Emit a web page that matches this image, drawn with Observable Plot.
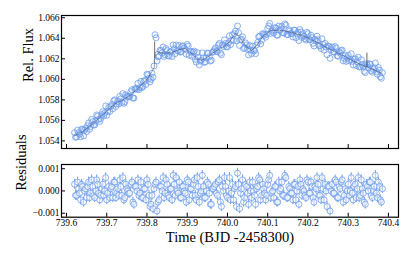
<!DOCTYPE html>
<html>
<head>
<meta charset="utf-8">
<script src="https://cdn.jsdelivr.net/npm/d3@7"></script>
<script src="https://cdn.jsdelivr.net/npm/@observablehq/plot@0.6"></script>
<style>
html,body{margin:0;padding:0;background:white;}
#chart svg{display:block;}
</style>
</head>
<body>
<div id="chart"></div>
<script>
// observations, first half-cadence set
const obsTime = [
739.620,739.625,739.630,739.635,739.640,739.645,739.650,739.655,739.660,739.665,
739.670,739.675,739.680,739.685,739.690,739.695,739.700,739.705,739.710,739.715,
739.720,739.725,739.730,739.735,739.740,739.745,739.750,739.755,739.760,739.765,
739.770,739.775,739.780,739.785,739.790,739.795,739.800,739.805,739.810,739.815,
739.820,739.825,739.830,739.835,739.840,739.845,739.850,739.855,739.860,739.865,
739.870,739.875,739.880,739.885,739.890,739.895,739.900,739.905,739.910,739.915,
739.920,739.925,739.930,739.935,739.940,739.945,739.950,739.955,739.960,739.965,
739.970,739.975,739.980,739.985,739.990,739.995,740.000,740.005,740.010,740.015,
740.020,740.025,740.030,740.035,740.040,740.045,740.050,740.055,740.060,740.065,
740.070,740.075,740.080,740.085,740.090,740.095,740.100,740.105,740.110,740.115,
740.120,740.125,740.130,740.135,740.140,740.145,740.150,740.155,740.160,740.165,
740.170,740.175,740.180,740.185,740.190,740.195,740.200,740.205,740.210,740.215,
740.220,740.225,740.230,740.235,740.240,740.245,740.250,740.255,740.260,740.265,
740.270,740.275,740.280,740.285,740.290,740.295,740.300,740.305,740.310,740.315,
740.320,740.325,740.330,740.335,740.340,740.345,740.350,740.355,740.360,740.365,
740.370,740.375,740.380,740.385];
const obsFlux = [
1.05480,1.05440,1.05480,1.05440,1.05510,1.05505,1.05490,1.05575,1.05540,1.05588,
1.05555,1.05653,1.05610,1.05617,1.05685,1.05672,1.05650,1.05728,1.05735,1.05713,
1.05800,1.05760,1.05760,1.05810,1.05860,1.05782,1.05835,1.05828,1.05880,1.05818,
1.05905,1.05902,1.05900,1.05980,1.05930,1.05990,1.06050,1.06010,1.06000,1.06020,
1.06435,1.06180,1.06225,1.06280,1.06315,1.06240,1.06280,1.06225,1.06270,1.06335,
1.06250,1.06280,1.06330,1.06270,1.06325,1.06290,1.06340,1.06235,1.06265,1.06265,
1.06195,1.06260,1.06140,1.06185,1.06210,1.06170,1.06255,1.06220,1.06185,1.06270,
1.06305,1.06270,1.06350,1.06240,1.06320,1.06350,1.06315,1.06425,1.06380,1.06380,
1.06470,1.06520,1.06330,1.06390,1.06300,1.06355,1.06295,1.06330,1.06250,1.06285,
1.06250,1.06360,1.06420,1.06380,1.06440,1.06410,1.06495,1.06545,1.06470,1.06452,
1.06502,1.06430,1.06478,1.06515,1.06452,1.06528,1.06435,1.06470,1.06445,1.06480,
1.06405,1.06460,1.06485,1.06408,1.06420,1.06382,1.06445,1.06385,1.06405,1.06325,
1.06375,1.06385,1.06325,1.06395,1.06285,1.06315,1.06325,1.06205,1.06315,1.06265,
1.06305,1.06225,1.06255,1.06285,1.06205,1.06175,1.06235,1.06195,1.06175,1.06195,
1.06135,1.06215,1.06125,1.06145,1.06078,1.06152,1.06115,1.06148,1.06070,1.06112,
1.06075,1.06115,1.06025,1.06065];
const obsResid = [
0.0003,-0.0002,0.0001,-0.0004,0.0002,0.0000,-0.0003,0.0004,-0.0001,0.0002,
-0.0003,0.0005,-0.0001,-0.0002,0.0003,0.0000,-0.0004,0.0002,0.0001,-0.0003,
0.0004,-0.0001,-0.0002,0.0002,0.0006,-0.0003,0.0001,-0.0001,0.0003,-0.0005,
0.0002,0.0000,-0.0002,0.0004,-0.0003,0.0001,0.0005,-0.0002,-0.0006,-0.0008,
0.0003,-0.0009,-0.0004,0.0002,0.0006,-0.0001,0.0003,-0.0003,0.0001,0.0007,
-0.0002,0.0000,0.0004,-0.0003,0.0002,-0.0001,0.0005,-0.0004,0.0001,0.0003,
-0.0002,0.0006,-0.0005,0.0000,0.0002,-0.0003,0.0004,-0.0001,-0.0006,0.0001,
0.0003,-0.0002,0.0005,-0.0007,0.0000,0.0002,-0.0003,0.0006,-0.0001,-0.0004,
0.0002,0.0008,-0.0008,0.0001,-0.0005,0.0003,-0.0001,0.0004,-0.0003,0.0000,
-0.0006,0.0002,0.0005,-0.0002,0.0001,-0.0004,0.0003,0.0007,-0.0001,-0.0003,
0.0002,-0.0005,0.0000,0.0004,-0.0002,0.0006,-0.0003,0.0001,-0.0001,0.0003,
-0.0004,0.0002,0.0005,-0.0002,0.0000,-0.0003,0.0004,-0.0001,0.0002,-0.0005,
0.0001,0.0003,-0.0002,0.0006,-0.0004,0.0000,0.0002,-0.0009,0.0003,-0.0001,
0.0004,-0.0003,0.0001,0.0005,-0.0002,-0.0004,0.0003,0.0000,-0.0001,0.0002,
-0.0003,0.0006,-0.0002,0.0001,-0.0005,0.0003,0.0000,0.0004,-0.0003,0.0002,
-0.0001,0.0004,-0.0004,0.0001];
// observations, second (interleaved) set
const obsTimeB = [
739.6225,739.6275,739.6325,739.6375,739.6425,739.6475,739.6525,739.6575,739.6625,739.6675,
739.6725,739.6775,739.6825,739.6875,739.6925,739.6975,739.7025,739.7075,739.7125,739.7175,
739.7225,739.7275,739.7325,739.7375,739.7425,739.7475,739.7525,739.7575,739.7625,739.7675,
739.7725,739.7775,739.7825,739.7875,739.7925,739.7975,739.8025,739.8075,739.8125,739.8175,
739.8225,739.8275,739.8325,739.8375,739.8425,739.8475,739.8525,739.8575,739.8625,739.8675,
739.8725,739.8775,739.8825,739.8875,739.8925,739.8975,739.9025,739.9075,739.9125,739.9175,
739.9225,739.9275,739.9325,739.9375,739.9425,739.9475,739.9525,739.9575,739.9625,739.9675,
739.9725,739.9775,739.9825,739.9875,739.9925,739.9975,740.0025,740.0075,740.0125,740.0175,
740.0225,740.0275,740.0325,740.0375,740.0425,740.0475,740.0525,740.0575,740.0625,740.0675,
740.0725,740.0775,740.0825,740.0875,740.0925,740.0975,740.1025,740.1075,740.1125,740.1175,
740.1225,740.1275,740.1325,740.1375,740.1425,740.1475,740.1525,740.1575,740.1625,740.1675,
740.1725,740.1775,740.1825,740.1875,740.1925,740.1975,740.2025,740.2075,740.2125,740.2175,
740.2225,740.2275,740.2325,740.2375,740.2425,740.2475,740.2525,740.2575,740.2625,740.2675,
740.2725,740.2775,740.2825,740.2875,740.2925,740.2975,740.3025,740.3075,740.3125,740.3175,
740.3225,740.3275,740.3325,740.3375,740.3425,740.3475,740.3525,740.3575,740.3625,740.3675,
740.3725,740.3775,740.3825];
const obsFluxB = [
1.05435,1.05505,1.05465,1.05515,1.05448,1.05523,1.05548,1.05513,1.05609,1.05557,
1.05594,1.05642,1.05589,1.05656,1.05644,1.05741,1.05689,1.05687,1.05754,1.05792,
1.05735,1.05785,1.05835,1.05775,1.05766,1.05849,1.05832,1.05834,1.05899,1.05817,
1.05914,1.05961,1.05920,1.05920,1.05980,1.05950,1.06045,1.05975,1.06060,1.06130,
1.06405,1.06218,1.06283,1.06258,1.06223,1.06300,1.06233,1.06268,1.06223,1.06298,
1.06335,1.06275,1.06265,1.06323,1.06303,1.06245,1.06323,1.06275,1.06225,1.06275,
1.06168,1.06215,1.06178,1.06258,1.06165,1.06208,1.06253,1.06178,1.06263,1.06288,
1.06273,1.06335,1.06255,1.06335,1.06385,1.06318,1.06355,1.06338,1.06435,1.06445,
1.06375,1.06455,1.06385,1.06415,1.06308,1.06335,1.06238,1.06285,1.06323,1.06278,
1.06335,1.06415,1.06345,1.06445,1.06430,1.06438,1.06520,1.06448,1.06481,1.06502,
1.06431,1.06519,1.06487,1.06454,1.06540,1.06437,1.06483,1.06448,1.06413,1.06478,
1.06443,1.06378,1.06462,1.06434,1.06396,1.06459,1.06390,1.06430,1.06350,1.06390,
1.06420,1.06330,1.06300,1.06340,1.06350,1.06240,1.06320,1.06290,1.06270,1.06320,
1.06230,1.06270,1.06280,1.06180,1.06230,1.06210,1.06180,1.06250,1.06140,1.06200,
1.06170,1.06120,1.06190,1.06122,1.06065,1.06139,1.06152,1.06084,1.06096,1.06159,
1.06050,1.06090,1.06010];
const obsResidB = [
-0.0002,0.0004,-0.0001,0.0003,-0.0005,0.0001,0.0002,-0.0003,0.0005,-0.0002,
0.0000,0.0003,-0.0004,0.0001,-0.0002,0.0006,-0.0001,-0.0003,0.0002,0.0004,
-0.0003,0.0001,0.0005,-0.0002,-0.0004,0.0003,0.0000,-0.0001,0.0004,-0.0006,
0.0002,0.0005,-0.0001,-0.0003,0.0001,-0.0004,0.0003,-0.0007,-0.0002,0.0001,
0.0004,-0.0005,0.0002,0.0000,-0.0003,0.0005,-0.0002,0.0001,-0.0004,0.0003,
0.0006,-0.0001,-0.0003,0.0002,0.0000,-0.0005,0.0004,0.0001,-0.0002,0.0005,
-0.0004,0.0002,-0.0001,0.0007,-0.0003,0.0000,0.0003,-0.0006,0.0001,0.0002,
-0.0001,0.0004,-0.0005,0.0002,0.0006,-0.0002,0.0000,-0.0004,0.0003,0.0001,
-0.0007,0.0003,-0.0001,0.0005,-0.0003,0.0002,-0.0006,0.0000,0.0004,-0.0002,
0.0001,0.0006,-0.0004,0.0003,-0.0001,-0.0002,0.0005,-0.0003,0.0000,0.0002,
-0.0005,0.0004,0.0001,-0.0002,0.0007,-0.0003,0.0002,-0.0001,-0.0004,0.0003,
0.0000,-0.0006,0.0003,0.0001,-0.0002,0.0005,-0.0001,0.0004,-0.0003,0.0002,
0.0006,-0.0002,-0.0004,0.0001,0.0003,-0.0007,0.0002,0.0000,-0.0001,0.0005,
-0.0003,0.0002,0.0004,-0.0005,0.0001,0.0000,-0.0002,0.0006,-0.0004,0.0003,
0.0001,-0.0003,0.0005,-0.0001,-0.0006,0.0002,0.0004,-0.0002,0.0000,0.0007,
-0.0003,0.0002,-0.0005];
const residErr = 0.00022;
// best-fit model curve
const modelTime = [739.620,739.640,739.660,739.680,739.700,739.720,739.740,739.760,739.780,739.800,
739.810,739.8185,739.819,739.8195,739.820,739.825,739.840,739.860,739.880,739.895,
739.910,739.925,739.935,739.950,739.970,739.990,740.005,740.020,740.030,740.045,
740.060,740.075,740.090,740.110,740.130,740.150,740.170,740.190,740.210,740.230,
740.250,740.270,740.290,740.310,740.330,740.346,740.3465,740.347,740.360,740.385];
const modelFlux = [1.05450,1.05490,1.05550,1.05620,1.05690,1.05760,1.05800,1.05850,1.05920,1.06000,
1.06060,1.06120,1.06370,1.06210,1.06260,1.06270,1.06255,1.06260,1.06290,1.06300,
1.06255,1.06200,1.06185,1.06215,1.06275,1.06320,1.06365,1.06450,1.06410,1.06325,
1.06280,1.06340,1.06430,1.06480,1.06478,1.06465,1.06445,1.06420,1.06385,1.06345,
1.06305,1.06265,1.06225,1.06185,1.06145,1.06120,1.06260,1.06120,1.06100,1.06055];
const xTicks = [739.6,739.7,739.8,739.9,740.0,740.1,740.2,740.3,740.4];
const fluxTicks = [1.054,1.056,1.058,1.060,1.062,1.064,1.066];
const residTicks = [-0.001,0.000,0.001];
const xLabel = "Time (BJD -2458300)";
const fluxLabel = "Rel. Flux";
const residLabel = "Residuals";

const obs = obsTime.map((t,i)=>({t, f: obsFlux[i], r: obsResid[i]}))
  .concat(obsTimeB.map((t,i)=>({t, f: obsFluxB[i], r: obsResidB[i]})))
  .sort((a,b)=>a.t-b.t);
const model = modelTime.map((t,i)=>({t, f: modelFlux[i]}));

const blue = "#6f9ded";
const font = "'Liberation Serif', 'DejaVu Serif', serif";
const xDomain = [739.5876, 740.425];
const common = {width:415, marginLeft:61, marginRight:17,
  style:{fontFamily:font, fontSize:"9.5px", color:"black", background:"white", overflow:"visible"}};

const topPanel = Plot.plot({...common, height:156, marginTop:15, marginBottom:8,
  x:{domain:xDomain},
  y:{domain:[1.05326,1.06622]},
  marks:[
    Plot.dot(obs,{x:"t", y:"f", r:3, stroke:blue, strokeWidth:0.8, fill:blue, fillOpacity:0.05}),
    Plot.line(model,{x:"t", y:"f", stroke:"#333", strokeWidth:0.7, strokeOpacity:0.6}),
    Plot.frame({stroke:"black", strokeWidth:1.2}),
    Plot.axisY({ticks:fluxTicks, tickSize:-4, tickPadding:6, tickFormat:d3.format(".3f"), label:null}),
    Plot.axisX({ticks:xTicks, tickSize:-4, tickFormat:()=>"", label:null}),
    Plot.text([fluxLabel],{frameAnchor:"left", rotate:-90, dx:-33, fontSize:14.5, text:d=>d})
  ]});

const bottomPanel = Plot.plot({...common, height:104, marginTop:8, marginBottom:43.3,
  x:{domain:xDomain},
  y:{domain:[-0.00118,0.00119]},
  marks:[
    Plot.ruleX(obs,{x:"t", y1:d=>d.r-residErr, y2:d=>d.r+residErr, stroke:blue, strokeWidth:1}),
    Plot.dot(obs,{x:"t", y:"r", r:3, stroke:blue, strokeWidth:0.8, fill:"white", fillOpacity:0.5}),
    Plot.frame({stroke:"black", strokeWidth:1.2}),
    Plot.axisY({ticks:residTicks, tickSize:-4, tickPadding:6, tickFormat:d3.format(".3f"), label:null}),
    Plot.axisX({ticks:xTicks, tickSize:-4, tickPadding:6, tickFormat:d3.format(".1f"), label:null}),
    Plot.text([residLabel],{frameAnchor:"left", rotate:-90, dx:-40, fontSize:14.5, text:d=>d}),
    Plot.text([xLabel],{frameAnchor:"bottom", dy:20.5, fontSize:14.5, lineAnchor:"middle", text:d=>d})
  ]});

const el = document.getElementById("chart");
el.appendChild(topPanel);
el.appendChild(bottomPanel);
</script>
</body>
</html>
